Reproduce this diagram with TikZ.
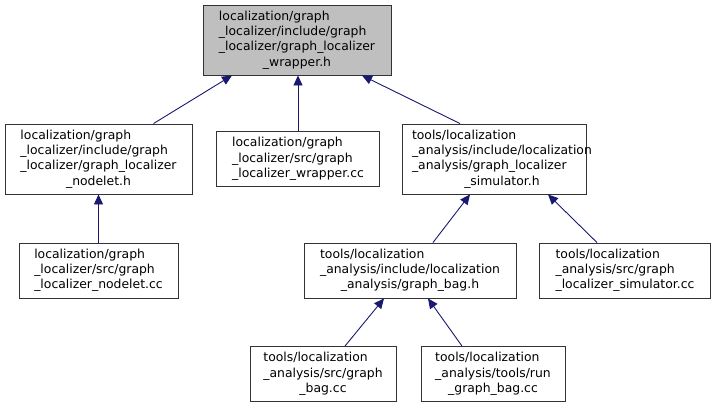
\documentclass[tikz,border=0pt]{standalone}
\usepackage{fontspec}
\setmainfont{DejaVu Sans}
\usepackage{xcolor}
\usepackage{tikz}
\usetikzlibrary{arrows.meta}

\definecolor{edgeblue}{HTML}{191970}
\definecolor{focusgray}{HTML}{BFBFBF}
\newcommand{\lastline}[1]{\multicolumn{1}{@{}c@{}}{#1}}

\begin{document}
\begin{tikzpicture}[x=1pt,y=-1pt,
    file/.style={draw=black!80,line width=0.9pt,inner sep=0pt,
        font=\fontsize{12.4}{15.3}\selectfont},
    dep/.style={draw=edgeblue,line width=0.9pt,-{Triangle[length=10pt,width=9pt]}}]
    \useasboundingbox (0,0) rectangle (716,408);

    % first level
    \node[file,fill=focusgray,minimum width=188pt,minimum height=70pt] (wrapperh) at (297,40)
        {\begin{tabular}{@{}l@{}}localization/graph\\ \_localizer/include/graph\\ \_localizer/graph\_localizer\\ \lastline{\_wrapper.h}\end{tabular}};

    % second level
    \node[file,minimum width=187pt,minimum height=70pt] (nodeleth) at (98.5,159)
        {\begin{tabular}{@{}l@{}}localization/graph\\ \_localizer/include/graph\\ \_localizer/graph\_localizer\\ \lastline{\_nodelet.h}\end{tabular}};
    \node[file,minimum width=163pt,minimum height=55pt] (wrappercc) at (298,159)
        {\begin{tabular}{@{}l@{}}localization/graph\\ \_localizer/src/graph\\ \lastline{\_localizer\_wrapper.cc}\end{tabular}};
    \node[file,minimum width=184pt,minimum height=70pt] (simh) at (494,159)
        {\makebox[184pt][l]{\hspace{10pt}\begin{tabular}{@{}l@{}}tools/localization\\ \_analysis/include/localization\\ \_analysis/graph\_localizer\\ \lastline{\_simulator.h}\end{tabular}}};

    % third level
    \node[file,minimum width=159pt,minimum height=55pt] (nodeletcc) at (98.5,270.5)
        {\begin{tabular}{@{}l@{}}localization/graph\\ \_localizer/src/graph\\ \lastline{\_localizer\_nodelet.cc}\end{tabular}};
    \node[file,minimum width=212pt,minimum height=55pt] (bagh) at (410,270.5)
        {\begin{tabular}{@{}l@{}}tools/localization\\ \_analysis/include/localization\\ \lastline{\_analysis/graph\_bag.h}\end{tabular}};
    \node[file,minimum width=171pt,minimum height=55pt] (simcc) at (625,270.5)
        {\begin{tabular}{@{}l@{}}tools/localization\\ \_analysis/src/graph\\ \lastline{\_localizer\_simulator.cc}\end{tabular}};

    % fourth level
    \node[file,minimum width=146pt,minimum height=55pt] (bagcc) at (323,374)
        {\begin{tabular}{@{}l@{}}tools/localization\\ \_analysis/src/graph\\ \lastline{\_bag.cc}\end{tabular}};
    \node[file,minimum width=144pt,minimum height=55pt] (runcc) at (493,374)
        {\begin{tabular}{@{}l@{}}tools/localization\\ \_analysis/tools/run\\ \lastline{\_graph\_bag.cc}\end{tabular}};

    % includes
    \draw[dep] ([xshift=55pt]nodeleth.north) -- ([xshift=-65pt]wrapperh.south);
    \draw[dep] (wrappercc.north) -- (wrappercc.north |- wrapperh.south);
    \draw[dep] ([xshift=-34pt]simh.north) -- ([xshift=65pt]wrapperh.south);
    \draw[dep] (nodeletcc.north) -- (nodeleth.south);
    \draw[dep] ([xshift=23pt]bagh.north) -- ([xshift=-24pt]simh.south);
    \draw[dep] ([xshift=-28pt]simcc.north) -- ([xshift=54pt]simh.south);
    \draw[dep] ([xshift=22pt]bagcc.north) -- ([xshift=-26pt]bagh.south);
    \draw[dep] ([xshift=-31pt]runcc.north) -- ([xshift=18pt]bagh.south);
\end{tikzpicture}
\end{document}
